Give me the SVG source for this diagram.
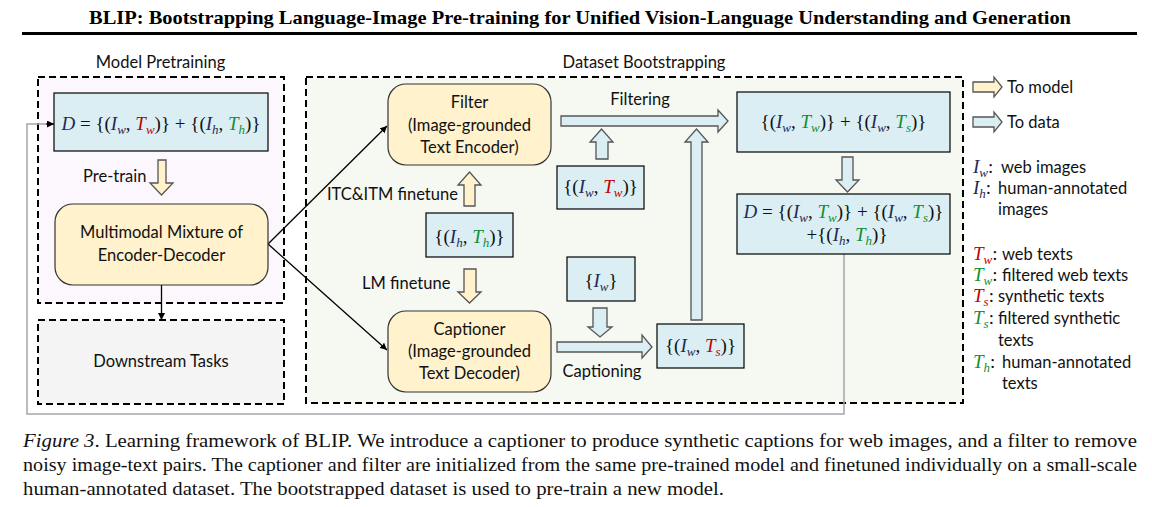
<svg xmlns="http://www.w3.org/2000/svg" width="1152" height="507" viewBox="0 0 1152 507">
<defs>
<style>
.lbl{font-family:Lato,"Liberation Sans",sans-serif;font-size:16.5px;fill:#111}
.m{font-family:"Liberation Serif","DejaVu Serif",serif;font-size:19px;fill:#111}
.i{font-style:italic;fill:#1f2a55}
.sb{font-style:italic;font-size:13px}
.r{fill:#c00000}
.g{fill:#109030}
.panel{stroke:#000;stroke-width:2;stroke-dasharray:7,4}
.bx{fill:#dbeef4;stroke:#000;stroke-width:1.2}
.rb{fill:#fff2cc;stroke:#333;stroke-width:1.2}
.ya{fill:#fff2cc;stroke:#555;stroke-width:1.3}
.ba{fill:#dbeef4;stroke:#555;stroke-width:1.3}
.cn{fill:none;stroke:#000;stroke-width:1.3}
.fb{fill:none;stroke:#a6a6a6;stroke-width:1.5}
.cap{font-family:"Liberation Serif",serif;font-size:18.5px;fill:#111}
</style>
<marker id="ah" viewBox="0 0 10 10" refX="10" refY="5" markerWidth="7" markerHeight="7" orient="auto" markerUnits="userSpaceOnUse">
<path d="M0,0 L10,5 L0,10 z" fill="#000"/>
</marker>
</defs>
<rect width="1152" height="507" fill="#fff"/>
<text x="580" y="24" text-anchor="middle" font-family="Liberation Serif,serif" font-weight="bold" font-size="19.5" textLength="982" lengthAdjust="spacingAndGlyphs">BLIP: Bootstrapping Language-Image Pre-training for Unified Vision-Language Understanding and Generation</text>
<rect x="22" y="32" width="1115" height="3" fill="#000"/>

<g id="panel-pretraining">
<rect class="panel" x="38" y="77" width="246" height="226" fill="#fcf7fc"/>
<text class="lbl" x="160.5" y="68" text-anchor="middle">Model Pretraining</text>
</g>
<g id="panel-bootstrapping">
<rect class="panel" x="306" y="77" width="657" height="326" fill="#f5f9f1"/>
<text class="lbl" x="644" y="68" text-anchor="middle">Dataset Bootstrapping</text>
</g>

<g id="connectors">
<polyline class="fb" points="844,254 844,414 27,414 27,124 46,124"/>
<line class="cn" x1="46" y1="124" x2="54" y2="124" marker-end="url(#ah)"/>
<line class="cn" x1="161.5" y1="285" x2="161.5" y2="320" marker-end="url(#ah)"/>
<line class="cn" x1="268" y1="244" x2="387" y2="126" marker-end="url(#ah)"/>
<line class="cn" x1="268" y1="244" x2="387" y2="350" marker-end="url(#ah)"/>
<polygon class="ya" points="158,160 166,160 166,183 173,183 161.5,195 150,183 158,183"/>
<polygon class="ya" points="464,206 475,206 475,185 481,185 469.5,172 458,185 464,185"/>
<polygon class="ya" points="464,269 476,269 476,292 481,292 469.5,303 458,292 464,292"/>
<polygon class="ba" points="561,116 718,116 718,110 728,121 718,132 718,126 561,126"/>
<polygon class="ba" points="596,159 608,159 608,142 613,142 601.5,129 590,142 596,142"/>
<polygon class="ba" points="691,320 702,320 702,142 708,142 696.5,129 685,142 691,142"/>
<polygon class="ba" points="593,308 607,308 607,327 612,327 600,337 588,327 593,327"/>
<polygon class="ba" points="557,342 642,342 642,335 652,347 642,358 642,352 557,352"/>
<polygon class="ba" points="842,157 853,157 853,180 859,180 847.5,192 836,180 842,180"/>
</g>

<g id="node-D-pretrain">
<rect class="bx" x="54" y="93" width="214" height="58"/>
<text class="m" x="161" y="130" text-anchor="middle"><tspan class="i">D</tspan> = {(<tspan class="i">I</tspan><tspan class="sb" dy="4" fill="#1f2a55">w</tspan><tspan dy="-4">, </tspan><tspan class="i r">T</tspan><tspan class="sb r" dy="4">w</tspan><tspan dy="-4">)} + {(</tspan><tspan class="i">I</tspan><tspan class="sb" dy="4" fill="#1f2a55">h</tspan><tspan dy="-4">, </tspan><tspan class="i g">T</tspan><tspan class="sb g" dy="4">h</tspan><tspan dy="-4">)}</tspan></text>
</g>
<g id="label-pretrain"><text class="lbl" x="83" y="182">Pre-train</text></g>

<g id="node-mmed">
<rect class="rb" x="55" y="204" width="213" height="81" rx="18"/>
<text class="lbl" x="161.5" y="238" text-anchor="middle">Multimodal Mixture of</text>
<text class="lbl" x="161.5" y="261" text-anchor="middle">Encoder-Decoder</text>
</g>

<g id="node-downstream">
<rect class="panel" x="38" y="320" width="246" height="84" fill="#f4f4f4"/>
<text class="lbl" x="161" y="367" text-anchor="middle">Downstream Tasks</text>
</g>

<g id="node-filter">
<rect class="rb" x="388" y="84" width="163" height="81" rx="18"/>
<text class="lbl" x="469.5" y="108" text-anchor="middle">Filter</text>
<text class="lbl" x="469.5" y="131" text-anchor="middle">(Image-grounded</text>
<text class="lbl" x="469.5" y="153" text-anchor="middle">Text Encoder)</text>
</g>

<g id="node-captioner">
<rect class="rb" x="388" y="311" width="163" height="81" rx="18"/>
<text class="lbl" x="469.5" y="335" text-anchor="middle">Captioner</text>
<text class="lbl" x="469.5" y="357" text-anchor="middle">(Image-grounded</text>
<text class="lbl" x="469.5" y="379" text-anchor="middle">Text Decoder)</text>
</g>

<g id="labels-mid">
<text class="lbl" x="327" y="200">ITC&amp;ITM finetune</text>
<text class="lbl" x="362" y="289">LM finetune</text>
<text class="lbl" x="640" y="105" text-anchor="middle">Filtering</text>
<text class="lbl" x="602" y="377" text-anchor="middle">Captioning</text>
</g>

<g id="node-IhTh">
<rect class="bx" x="426" y="213" width="87" height="44"/>
<text class="m" x="469.5" y="243" text-anchor="middle">{(<tspan class="i">I</tspan><tspan class="sb" dy="4" fill="#1f2a55">h</tspan><tspan dy="-4">, </tspan><tspan class="i g">T</tspan><tspan class="sb g" dy="4">h</tspan><tspan dy="-4">)}</tspan></text>
</g>

<g id="node-IwTw">
<rect class="bx" x="557" y="166" width="87" height="43"/>
<text class="m" x="600.5" y="193" text-anchor="middle">{(<tspan class="i">I</tspan><tspan class="sb" dy="4" fill="#1f2a55">w</tspan><tspan dy="-4">, </tspan><tspan class="i r">T</tspan><tspan class="sb r" dy="4">w</tspan><tspan dy="-4">)}</tspan></text>
</g>

<g id="node-Iw">
<rect class="bx" x="567" y="257" width="68" height="44"/>
<text class="m" x="601" y="287" text-anchor="middle">{<tspan class="i">I</tspan><tspan class="sb" dy="4" fill="#1f2a55">w</tspan><tspan dy="-4">}</tspan></text>
</g>

<g id="node-IwTs">
<rect class="bx" x="657" y="324" width="87" height="44"/>
<text class="m" x="700.5" y="352" text-anchor="middle">{(<tspan class="i">I</tspan><tspan class="sb" dy="4" fill="#1f2a55">w</tspan><tspan dy="-4">, </tspan><tspan class="i r">T</tspan><tspan class="sb r" dy="4">s</tspan><tspan dy="-4">)}</tspan></text>
</g>

<g id="node-filtered">
<rect class="bx" x="737" y="92" width="213" height="60"/>
<text class="m" x="843.5" y="128" text-anchor="middle">{(<tspan class="i">I</tspan><tspan class="sb" dy="4" fill="#1f2a55">w</tspan><tspan dy="-4">, </tspan><tspan class="i g">T</tspan><tspan class="sb g" dy="4">w</tspan><tspan dy="-4">)} + {(</tspan><tspan class="i">I</tspan><tspan class="sb" dy="4" fill="#1f2a55">w</tspan><tspan dy="-4">, </tspan><tspan class="i g">T</tspan><tspan class="sb g" dy="4">s</tspan><tspan dy="-4">)}</tspan></text>
</g>

<g id="node-D-new">
<rect class="bx" x="737" y="194" width="213" height="60"/>
<text class="m" x="843.5" y="218" text-anchor="middle"><tspan class="i">D</tspan> = {(<tspan class="i">I</tspan><tspan class="sb" dy="4" fill="#1f2a55">w</tspan><tspan dy="-4">, </tspan><tspan class="i g">T</tspan><tspan class="sb g" dy="4">w</tspan><tspan dy="-4">)} + {(</tspan><tspan class="i">I</tspan><tspan class="sb" dy="4" fill="#1f2a55">w</tspan><tspan dy="-4">, </tspan><tspan class="i g">T</tspan><tspan class="sb g" dy="4">s</tspan><tspan dy="-4">)}</tspan></text>
<text class="m" x="847" y="241" text-anchor="middle">+{(<tspan class="i">I</tspan><tspan class="sb" dy="4" fill="#1f2a55">h</tspan><tspan dy="-4">, </tspan><tspan class="i g">T</tspan><tspan class="sb g" dy="4">h</tspan><tspan dy="-4">)}</tspan></text>
</g>

<g id="legend">
<polygon class="ya" points="973,82 994,82 994,77 1002,87 994,97 994,92 973,92"/>
<text class="lbl" x="1007" y="93">To model</text>
<polygon class="ba" points="973,117 994,117 994,112 1002,122 994,132 994,127 973,127"/>
<text class="lbl" x="1007" y="128">To data</text>
<text class="m" x="973" y="173"><tspan class="i">I</tspan><tspan class="sb" dy="4" fill="#1f2a55">w</tspan><tspan dy="-4">:</tspan></text>
<text class="lbl" x="1001" y="173">web images</text>
<text class="m" x="973" y="194"><tspan class="i">I</tspan><tspan class="sb" dy="4" fill="#1f2a55">h</tspan><tspan dy="-4">:</tspan></text>
<text class="lbl" x="998" y="194">human-annotated</text>
<text class="lbl" x="998" y="215">images</text>
<text class="m" x="973" y="260"><tspan class="i r">T</tspan><tspan class="sb r" dy="4">w</tspan><tspan dy="-4">:</tspan></text>
<text class="lbl" x="1002" y="260">web texts</text>
<text class="m" x="973" y="281"><tspan class="i g">T</tspan><tspan class="sb g" dy="4">w</tspan><tspan dy="-4">:</tspan></text>
<text class="lbl" x="1002" y="281">filtered web texts</text>
<text class="m" x="973" y="302"><tspan class="i r">T</tspan><tspan class="sb r" dy="4">s</tspan><tspan dy="-4">:</tspan></text>
<text class="lbl" x="998" y="302">synthetic texts</text>
<text class="m" x="973" y="324"><tspan class="i g">T</tspan><tspan class="sb g" dy="4">s</tspan><tspan dy="-4">:</tspan></text>
<text class="lbl" x="998" y="324">filtered synthetic</text>
<text class="lbl" x="998" y="346">texts</text>
<text class="m" x="973" y="368"><tspan class="i g">T</tspan><tspan class="sb g" dy="4">h</tspan><tspan dy="-4">:</tspan></text>
<text class="lbl" x="1002" y="368">human-annotated</text>
<text class="lbl" x="1002" y="389">texts</text>
</g>

<g id="caption">
<text class="cap" x="23" y="447" textLength="1114" lengthAdjust="spacingAndGlyphs"><tspan font-style="italic">Figure 3</tspan>. Learning framework of BLIP. We introduce a captioner to produce synthetic captions for web images, and a filter to remove</text>
<text class="cap" x="23" y="471" textLength="1114" lengthAdjust="spacingAndGlyphs">noisy image-text pairs. The captioner and filter are initialized from the same pre-trained model and finetuned individually on a small-scale</text>
<text class="cap" x="23" y="495" textLength="701" lengthAdjust="spacingAndGlyphs">human-annotated dataset. The bootstrapped dataset is used to pre-train a new model.</text>
</g>
</svg>
